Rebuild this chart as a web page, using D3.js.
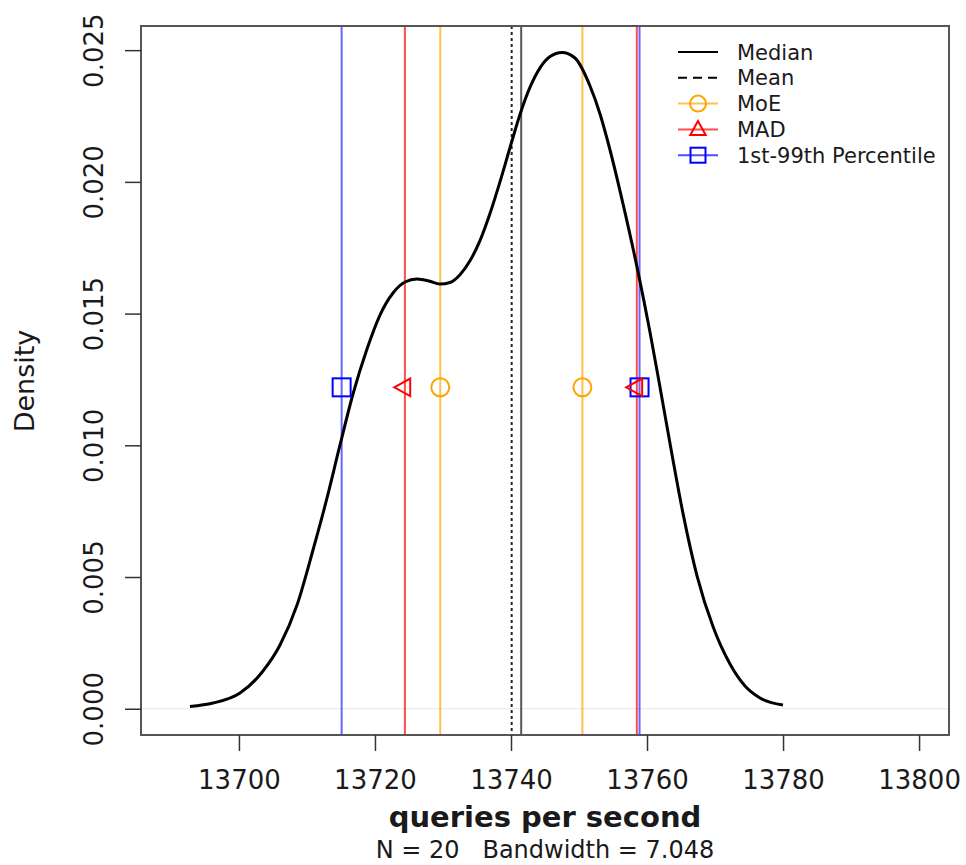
<!DOCTYPE html>
<html>
<head>
<meta charset="utf-8">
<script src="https://cdn.jsdelivr.net/npm/d3@7"></script>
<style>
  html, body { margin: 0; padding: 0; background: #fff; }
  svg { display: block; }
  text { font-family: "DejaVu Sans", sans-serif; fill: #1a1a1a; }
</style>
</head>
<body>
<svg id="chart" width="966" height="865"></svg>
<script>
// ---- Data ----
const densityX = [13692.80, 13696.19, 13700.16, 13703.54, 13706.04, 13708.54, 13710.89, 13712.95, 13714.86, 13716.77,
  13718.83, 13720.74, 13722.65, 13724.42, 13726.18, 13727.95, 13729.56, 13731.03, 13732.50, 13733.97,
  13735.44, 13736.91, 13738.38, 13739.85, 13741.32, 13742.80, 13744.27, 13745.74, 13747.50, 13749.41,
  13751.62, 13753.09, 13754.56, 13756.47, 13758.67, 13760.44, 13761.91, 13763.67, 13765.29, 13767.35,
  13769.70, 13772.20, 13774.41, 13776.61, 13779.99];
const densityY = [0.000085, 0.000218, 0.000597, 0.001432, 0.002419, 0.003938, 0.006026, 0.008000, 0.010012, 0.011948,
  0.013656, 0.014946, 0.015781, 0.016199, 0.016313, 0.016240, 0.016120, 0.016180, 0.016474, 0.017003,
  0.017767, 0.018796, 0.020001, 0.021295, 0.022559, 0.023595, 0.024330, 0.024756, 0.024914, 0.024702,
  0.023639, 0.022576, 0.021210, 0.019166, 0.016592, 0.014291, 0.012204, 0.009652, 0.007416, 0.005047,
  0.003120, 0.001698, 0.000863, 0.000408, 0.000142];

const medianValue = 13741.5;
const meanValue = 13740.1;
const moeBounds = [13729.6, 13750.5];
const madBounds = [13724.4, 13758.5];
const pctBounds = [13715.1, 13758.9];
const markerDensity = 0.0122;

const xTicks = [13700, 13720, 13740, 13760, 13780, 13800];
const yTicks = [0.000, 0.005, 0.010, 0.015, 0.020, 0.025];
const legendLabels = ["Median", "Mean", "MoE", "MAD", "1st-99th Percentile"];

const xLabel = "queries per second";
const subLabel = "N = 20   Bandwidth = 7.048";
const yLabel = "Density";

// ---- Layout ----
const svg = d3.select("#chart");
const box = { left: 141, right: 949, top: 26, bottom: 735 };

const x = d3.scaleLinear().domain([13685.6, 13804.4]).range([box.left, box.right]);
const y = d3.scaleLinear().domain([-0.000997, 0.025917]).range([box.bottom, box.top]);

const colors = { moe: "#FFA500", mad: "#FF0000", pct: "#0000FF" };

// zero line
svg.append("line")
  .attr("x1", box.left).attr("x2", box.right)
  .attr("y1", y(0)).attr("y2", y(0))
  .attr("stroke", "#e6e6e6").attr("stroke-width", 1);

// vertical lines
function vline(v, color, width, dash, opacity) {
  svg.append("line")
    .attr("x1", x(v)).attr("x2", x(v))
    .attr("y1", box.top).attr("y2", box.bottom)
    .attr("stroke", color).attr("stroke-width", width)
    .attr("stroke-opacity", opacity)
    .attr("stroke-dasharray", dash || null);
}
pctBounds.forEach(v => vline(v, colors.pct, 2, null, 0.6));
madBounds.forEach(v => vline(v, colors.mad, 2, null, 0.7));
moeBounds.forEach(v => vline(v, colors.moe, 2, null, 0.7));
vline(meanValue, "#000", 2, "3,3", 0.85);
vline(medianValue, "#444", 2, null, 0.9);

// density curve
const line = d3.line().x((d, i) => x(densityX[i])).y((d, i) => y(densityY[i])).curve(d3.curveMonotoneX);
svg.append("path")
  .datum(densityX)
  .attr("d", line)
  .attr("fill", "none")
  .attr("stroke", "#000")
  .attr("stroke-width", 3)
  .attr("stroke-linejoin", "round");

// markers
function square(cx, cy, s, color) {
  svg.append("rect").attr("x", cx - s / 2).attr("y", cy - s / 2)
    .attr("width", s).attr("height", s)
    .attr("fill", "none").attr("stroke", color).attr("stroke-width", 2);
}
function circle(cx, cy, r, color) {
  svg.append("circle").attr("cx", cx).attr("cy", cy).attr("r", r)
    .attr("fill", "none").attr("stroke", color).attr("stroke-width", 2);
}
function triangle(cx, cy, h, color, dir) {
  const half = h * 0.55;
  let pts;
  if (dir === "left") {
    pts = [[cx - h * 2 / 3, cy], [cx + h / 3, cy - half], [cx + h / 3, cy + half]];
  } else {
    pts = [[cx, cy - h * 2 / 3], [cx - half, cy + h / 3], [cx + half, cy + h / 3]];
  }
  svg.append("polygon").attr("points", pts.map(p => p.join(",")).join(" "))
    .attr("fill", "none").attr("stroke", color).attr("stroke-width", 2);
}
const my = y(markerDensity);
pctBounds.forEach(v => square(x(v), my, 18, colors.pct));
madBounds.forEach(v => triangle(x(v), my, 16, colors.mad, "left"));
moeBounds.forEach(v => circle(x(v), my, 9, colors.moe));

// box
svg.append("rect")
  .attr("x", box.left).attr("y", box.top)
  .attr("width", box.right - box.left).attr("height", box.bottom - box.top)
  .attr("fill", "none").attr("stroke", "#555").attr("stroke-width", 2);

// x axis
const xAxis = svg.append("g").attr("transform", `translate(0,${box.bottom})`)
  .call(d3.axisBottom(x).tickValues(xTicks).tickSize(16).tickPadding(20).tickFormat(d3.format("d")));
xAxis.select(".domain").remove();
xAxis.selectAll("line").attr("stroke", "#333").attr("stroke-width", 1.5);
xAxis.selectAll("text").attr("font-size", 26).attr("font-family", "DejaVu Sans").attr("fill", "#1a1a1a");

// y axis
const yAxis = svg.append("g").attr("transform", `translate(${box.left},0)`)
  .call(d3.axisLeft(y).tickValues(yTicks).tickSize(16).tickFormat(d3.format(".3f")));
yAxis.select(".domain").remove();
yAxis.selectAll("line").attr("stroke", "#333").attr("stroke-width", 1.5);
yAxis.selectAll("text")
  .attr("font-size", 26).attr("font-family", "DejaVu Sans").attr("fill", "#1a1a1a")
  .attr("x", null).attr("dy", null)
  .attr("text-anchor", "middle")
  .attr("transform", "translate(-38,0) rotate(-90)");

// axis titles
svg.append("text").attr("x", 545).attr("y", 827)
  .attr("text-anchor", "middle").attr("font-size", 29).attr("font-weight", "bold")
  .text(xLabel);
svg.append("text").attr("x", 545).attr("y", 858)
  .attr("text-anchor", "middle").attr("font-size", 24)
  .style("white-space", "pre")
  .text(subLabel);
svg.append("text")
  .attr("transform", "translate(34,381) rotate(-90)")
  .attr("text-anchor", "middle").attr("font-size", 27)
  .text(yLabel);

// legend
const lg = svg.append("g");
const lx0 = 678, lx1 = 718, ltx = 737, ly0 = 52, ldy = 25.8;
const legendStyles = [
  { color: "#000", dash: null, marker: null },
  { color: "#000", dash: "9,6", marker: null },
  { color: colors.moe, dash: null, marker: "circle" },
  { color: colors.mad, dash: null, marker: "triangle" },
  { color: colors.pct, dash: null, marker: "square" }
];
legendLabels.forEach((lab, i) => {
  const st = legendStyles[i];
  const yy = ly0 + i * ldy;
  lg.append("line").attr("x1", lx0).attr("x2", lx1).attr("y1", yy).attr("y2", yy)
    .attr("stroke", st.color).attr("stroke-width", 2)
    .attr("stroke-opacity", st.marker ? 0.7 : 1)
    .attr("stroke-dasharray", st.dash);
  const cx = (lx0 + lx1) / 2;
  if (st.marker === "circle") circle(cx, yy, 8, st.color);
  if (st.marker === "triangle") triangle(cx, yy + 1, 14, st.color, "up");
  if (st.marker === "square") square(cx, yy, 15, st.color);
  lg.append("text").attr("x", ltx).attr("y", yy + 7.5).attr("font-size", 21).text(lab);
});
</script>
</body>
</html>
